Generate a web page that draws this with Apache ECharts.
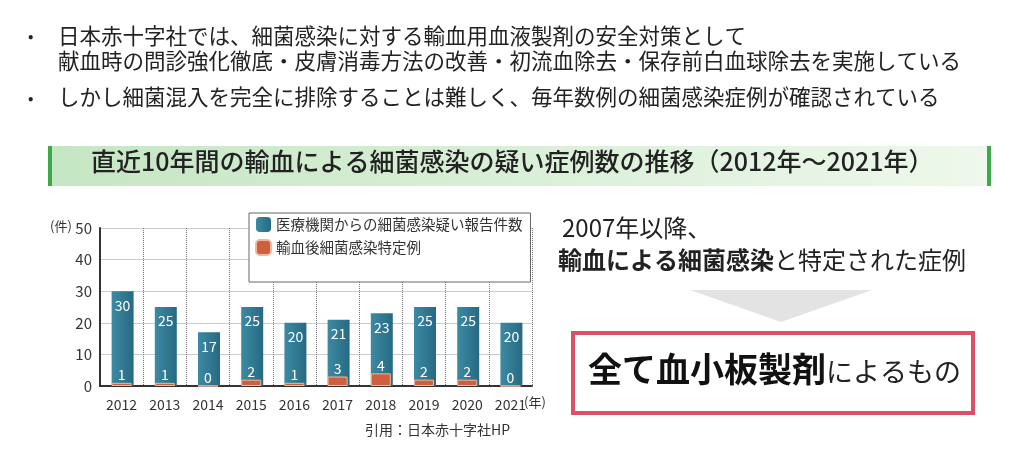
<!DOCTYPE html>
<html>
<head>
<meta charset="UTF-8">
<script src="https://cdn.jsdelivr.net/npm/echarts@6/dist/echarts.min.js"></script>
<style>
body{margin:0;background:#fff}
#main{width:1024px;height:457px}
</style>
</head>
<body>
<div id="main"></div>
<script>
var years = ['2012','2013','2014','2015','2016','2017','2018','2019','2020','2021'];
var reported = [30, 25, 17, 25, 20, 21, 23, 25, 25, 20];
var confirmed = [1, 1, 0, 2, 1, 3, 4, 2, 2, 0];
var yTicks = [0, 10, 20, 30, 40, 50];

var F = '"Noto Sans CJK JP", sans-serif';
var chart = echarts.init(document.getElementById('main'));

function txt(x, y, s, size, opt) {
	return Object.assign({type: 'text', x: x, y: y, style: Object.assign({text: s, font: size + 'px ' + F, fill: '#222'}, opt || {})});
}

var option = {
	animation: false,
	grid: {left: 100, right: 492, top: 228, bottom: 71},
	legend: {
		orient: 'vertical', left: 249, top: 213, itemWidth: 15, itemHeight: 15, itemGap: 7,
		padding: [4, 8, 26, 6], borderColor: '#666', borderWidth: 1, backgroundColor: '#fff',
		textStyle: {fontFamily: F, fontSize: 14.5, color: '#333'},
		data: ['医療機関からの細菌感染疑い報告件数', '輸血後細菌感染特定例']
	},
	xAxis: {
		type: 'category', data: years,
		axisLine: {lineStyle: {color: '#333', width: 2}},
		axisTick: {show: false},
		axisLabel: {fontFamily: F, fontSize: 14, color: '#333', margin: 12},
		splitLine: {show: true, interval: 0, lineStyle: {type: 'dotted', color: '#777'}}
	},
	yAxis: {
		type: 'value', min: 0, max: 50, interval: 10,
		axisLine: {show: true, lineStyle: {color: '#333', width: 2}},
		axisLabel: {fontFamily: F, fontSize: 15, color: '#333', formatter: function (v) { return yTicks.indexOf(v) >= 0 ? v : ''; }},
		splitLine: {lineStyle: {color: '#ccc'}}
	},
	series: [{
		name: '医療機関からの細菌感染疑い報告件数', type: 'bar', data: reported, barWidth: 22,
		itemStyle: {color: new echarts.graphic.LinearGradient(0, 0, 1, 0, [{offset: 0, color: '#3d8aa3'}, {offset: 1, color: '#266a82'}])},
		label: {show: true, position: 'insideTop', color: '#fff', fontSize: 14, fontFamily: F, offset: [0, 2]}
	}, {
		name: '輸血後細菌感染特定例', type: 'bar', data: confirmed, barWidth: 20, barGap: '-100%',
		itemStyle: {color: '#cf5f3d', borderColor: '#f0b89f', borderWidth: 1},
		label: {show: true, position: 'top', color: '#fff', fontSize: 14, fontFamily: F, distance: 1}
	}],
	graphic: [
		txt(28, 28, '•', 16), txt(58, 25, '日本赤十字社では、細菌感染に対する輸血用血液製剤の安全対策として', 21.5),
		txt(58, 50, '献血時の問診強化徹底・皮膚消毒方法の改善・初流血除去・保存前白血球除去を実施している', 21.5),
		txt(28, 90, '•', 16), txt(58, 86, 'しかし細菌混入を完全に排除することは難しく、毎年数例の細菌感染症例が確認されている', 21.5),
		{type: 'rect', shape: {x: 48, y: 146, width: 943, height: 40},
			style: {fill: new echarts.graphic.LinearGradient(0, 0, 1, 0, [{offset: 0, color: '#c5e6c3'}, {offset: 1, color: '#eef8ec'}])}},
		{type: 'rect', shape: {x: 48, y: 146, width: 4, height: 40}, style: {fill: '#3daa4a'}},
		{type: 'rect', shape: {x: 987, y: 146, width: 4, height: 40}, style: {fill: '#3daa4a'}},
		txt(91, 149, '直近10年間の輸血による細菌感染の疑い症例数の推移（2012年～2021年）', 25, {font: '500 25px ' + F}),
		txt(50, 220, '(件)', 13, {fill: '#333'}),
		txt(524, 396, '(年)', 13, {fill: '#333'}),
		txt(277, 259, '※特定症例は全て血小板製剤', 14, {fill: '#e53a3a'}),
		txt(365, 423, '引用：日本赤十字社HP', 14, {fill: '#333'}),
		txt(562, 216, '2007年以降、', 24),
		{type: 'text', x: 558, y: 248, style: {rich: {b: {font: 'bold 24px ' + F, fill: '#222'}, n: {font: '24px ' + F, fill: '#222'}},
			text: '{b|輸血による細菌感染}{n|と特定された症例}'}},
		{type: 'polygon', shape: {points: [[690, 290], [872, 290], [781, 322]]}, style: {fill: '#e3e3e3'}},
		{type: 'rect', shape: {x: 573, y: 333, width: 400, height: 80}, style: {fill: '#fff', stroke: '#d95068', lineWidth: 4}},
		{type: 'text', x: 588, y: 352, style: {rich: {b: {font: 'bold 34px ' + F, fill: '#111'}, n: {font: '27px ' + F, fill: '#222', padding: [6, 0, 0, 0]}},
			text: '{b|全て血小板製剤}{n|によるもの}'}}
	]
};
chart.setOption(option);
</script>
</body>
</html>
